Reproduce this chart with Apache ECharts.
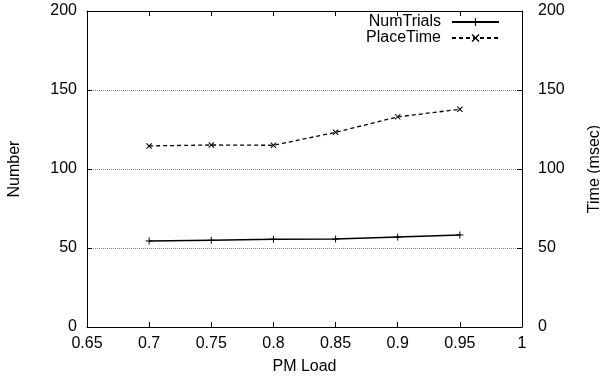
<!DOCTYPE html>
<html><head><meta charset="utf-8">
<script src="https://cdn.jsdelivr.net/npm/echarts@6/dist/echarts.min.js"></script>
<style>html,body{margin:0;padding:0;background:#fff}#c{width:600px;height:376px}</style>
</head><body><div id="c"></div>
<script>
var loads = [0.7, 0.75, 0.8, 0.85, 0.9, 0.95];
var numTrials = [54.4, 54.9, 55.5, 55.7, 57.0, 58.2];
var placeTime = [114.6, 115.2, 115.0, 123.2, 133.0, 137.8];
var xTicks = [0.65, 0.7, 0.75, 0.8, 0.85, 0.9, 0.95, 1];
var yTicks = [0, 50, 100, 150, 200];

var plusPath = 'path://M0,4.3L10,4.3L10,5.7L0,5.7Z M4.3,0L5.7,0L5.7,10L4.3,10Z';
var xPath = 'path://M0,1.2L1.2,0L5,3.8L8.8,0L10,1.2L6.2,5L10,8.8L8.8,10L5,6.2L1.2,10L0,8.8L3.8,5Z';
var font = 'Liberation Sans, Arial, sans-serif';
var fs = 16;
function pair(xs, ys){ return xs.map(function(x,i){ return [x, ys[i]]; }); }
function fmt(v){ return String(+(+v).toFixed(2)); }

var chart = echarts.init(document.getElementById('c'), null, {renderer:'canvas'});
chart.setOption({
  animation:false,
  backgroundColor:'#fff',
  textStyle:{fontFamily:font, color:'#000'},
  grid:{left:87, right:78, top:11, bottom:49, containLabel:false, outerBoundsMode:'none'},
  legend:{
    orient:'vertical', right:100, top:14, align:'right', padding:0,
    itemWidth:47, itemHeight:10, itemGap:0,
    textStyle:{fontFamily:font, fontSize:fs, lineHeight:15, color:'#000', padding:[0,6,0,0]},
    data:['NumTrials','PlaceTime']
  },
  xAxis:[{
    type:'value', min:xTicks[0], max:xTicks[xTicks.length-1], interval:0.05,
    position:'bottom',
    name:'PM Load', nameLocation:'middle', nameGap:32,
    nameTextStyle:{fontFamily:font, fontSize:fs, color:'#000'},
    axisLine:{onZero:false, lineStyle:{color:'#000', width:1}},
    axisTick:{inside:true, length:5, lineStyle:{color:'#000'}},
    axisLabel:{fontFamily:font, fontSize:fs, color:'#000', margin:9, formatter:fmt},
    splitLine:{show:false}
  },{
    type:'value', min:xTicks[0], max:xTicks[xTicks.length-1], interval:0.05,
    position:'top',
    axisLine:{show:true, onZero:false, lineStyle:{color:'#000', width:1}},
    axisTick:{show:true, inside:true, length:5, lineStyle:{color:'#000'}},
    axisLabel:{show:false},
    splitLine:{show:false}
  }],
  yAxis:[{
    type:'value', min:yTicks[0], max:yTicks[yTicks.length-1], interval:50,
    position:'left',
    name:'Number', nameLocation:'middle', nameGap:64, nameRotate:90,
    nameTextStyle:{fontFamily:font, fontSize:fs, color:'#000'},
    axisLine:{show:true, onZero:false, lineStyle:{color:'#000', width:1}},
    axisTick:{show:true, inside:true, length:5, lineStyle:{color:'#000'}},
    axisLabel:{fontFamily:font, fontSize:fs, color:'#000', margin:10},
    splitLine:{show:true, lineStyle:{color:'#888', type:[1,1], width:1}}
  },{
    type:'value', min:yTicks[0], max:yTicks[yTicks.length-1], interval:50,
    position:'right',
    name:'Time (msec)', nameLocation:'middle', nameGap:65, nameRotate:90,
    nameTextStyle:{fontFamily:font, fontSize:fs, color:'#000'},
    axisLine:{show:true, onZero:false, lineStyle:{color:'#000', width:1}},
    axisTick:{show:true, inside:true, length:5, lineStyle:{color:'#000'}},
    axisLabel:{fontFamily:font, fontSize:fs, color:'#000', margin:16},
    splitLine:{show:false}
  }],
  series:[{
    name:'NumTrials', type:'line', xAxisIndex:0, yAxisIndex:0,
    data:pair(loads, numTrials),
    symbol:plusPath, symbolSize:7, showAllSymbol:true,
    lineStyle:{color:'#000', width:1.5, type:'solid'},
    itemStyle:{color:'#000', borderWidth:0}
  },{
    name:'PlaceTime', type:'line', xAxisIndex:0, yAxisIndex:1,
    data:pair(loads, placeTime),
    symbol:xPath, symbolSize:6, showAllSymbol:true,
    lineStyle:{color:'#000', width:1.3, type:[4,3]},
    itemStyle:{color:'#000', borderWidth:0}
  }]
});
</script></body></html>
